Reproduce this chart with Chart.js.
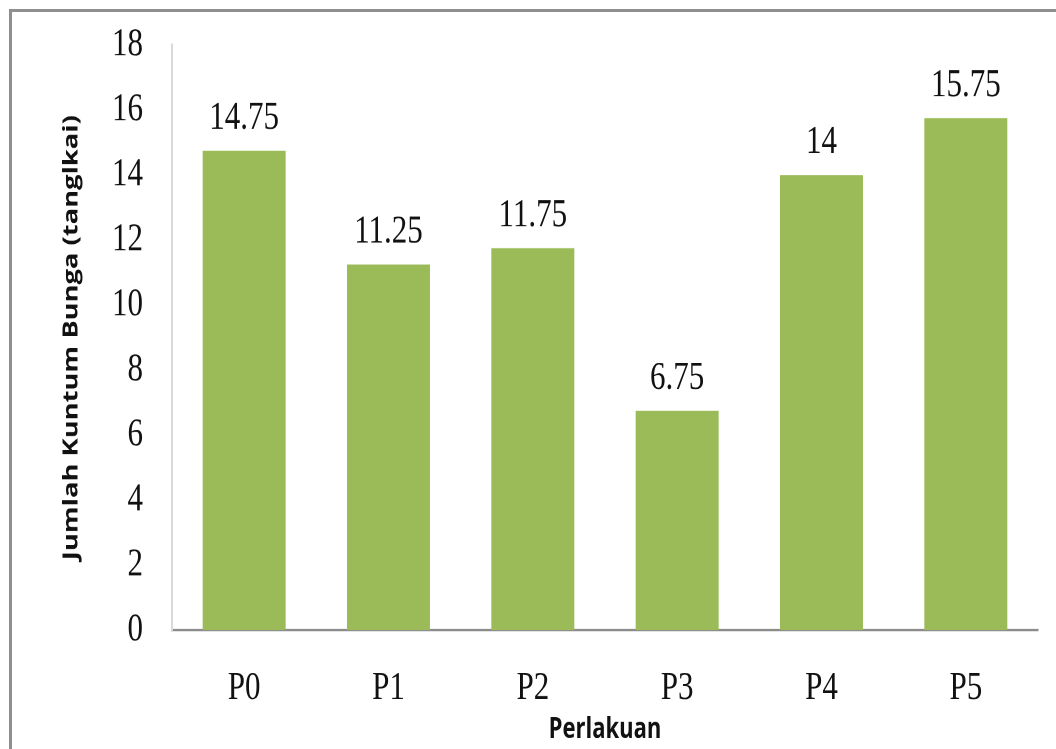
<!DOCTYPE html>
<html>
<head>
<meta charset="utf-8">
<script src="https://cdn.jsdelivr.net/npm/chart.js@4/dist/chart.umd.min.js"></script>
<style>
  html, body { margin: 0; padding: 0; background: #fff; overflow: hidden; width: 1056px; height: 749px; }
  #frame { position: absolute; left: 9px; top: 9px; width: 1100px; height: 800px;
           border: 3px solid #8f8f8f; box-sizing: border-box; }
  /* the chart is laid out on a shorter canvas and stretched to full height,
     which gives the tall, narrow lettering */
  #wrap { position: absolute; left: 0; top: 0; width: 1056px; height: 576px;
          transform: scaleY(1.30035); transform-origin: 0 0; }
</style>
</head>
<body>
<div id="frame"></div>
<div id="wrap"><canvas id="chart" width="1056" height="576"></canvas></div>
<script>
const categories = ['P0', 'P1', 'P2', 'P3', 'P4', 'P5'];
const values = [14.75, 11.25, 11.75, 6.75, 14, 15.75];
const yTicks = [0, 2, 4, 6, 8, 10, 12, 14, 16, 18];
const xTitle = 'Perlakuan';
const yTitle = 'Jumlah Kuntum Bunga (tanglkai)';

const serif = 'Liberation Serif, Times New Roman, serif';
const sans = 'Open Sans, DejaVu Sans, sans-serif';

// value printed above each bar
const valueLabels = {
  id: 'valueLabels',
  afterDatasetsDraw(chart) {
    const ctx = chart.ctx;
    const meta = chart.getDatasetMeta(0);
    ctx.save();
    ctx.font = '31px ' + serif;
    ctx.fillStyle = '#111';
    ctx.textAlign = 'center';
    ctx.textBaseline = 'alphabetic';
    meta.data.forEach((bar, i) => {
      ctx.fillText(String(chart.data.datasets[0].data[i]), bar.x, bar.y - 17);
    });
    ctx.restore();
  }
};

new Chart(document.getElementById('chart'), {
  type: 'bar',
  data: {
    labels: categories,
    datasets: [{
      data: values,
      backgroundColor: '#9bbb59',
      borderWidth: 0,
      categoryPercentage: 1.0,
      barPercentage: 0.575
    }]
  },
  options: {
    responsive: false,
    animation: false,
    devicePixelRatio: 2,
    layout: { padding: { left: 0, right: 18, top: 34.6, bottom: 0 } },
    plugins: { legend: { display: false }, tooltip: { enabled: false } },
    scales: {
      x: {
        grid: { display: false, drawTicks: false },
        border: { display: true, color: '#8c8c8c', width: 2 },
        ticks: { color: '#111', font: { family: serif, size: 31 }, padding: 26 },
        title: { display: true, text: xTitle, color: '#111',
                 font: { family: sans, size: 22, weight: 'bold' }, padding: { top: 0, bottom: 1.4 } },
        afterFit(scale) { scale.height = 91.4; }
      },
      y: {
        min: 0, max: 18,
        afterBuildTicks(scale) { scale.ticks = yTicks.map(v => ({ value: v })); },
        grid: { display: false, drawTicks: false },
        border: { display: true, color: '#d9d9d9', width: 2 },
        ticks: { color: '#111', font: { family: serif, size: 31 }, padding: 29 },
        title: { display: true, text: yTitle, color: '#111',
                 font: { family: sans, size: 21, weight: 'bold' }, padding: { top: 59, bottom: 0 } },
        afterFit(scale) {
          scale.width = 172;
          scale.paddingTop = 0;
          scale.paddingBottom = 0;
        }
      }
    }
  },
  plugins: [valueLabels]
});
</script>
</body>
</html>
